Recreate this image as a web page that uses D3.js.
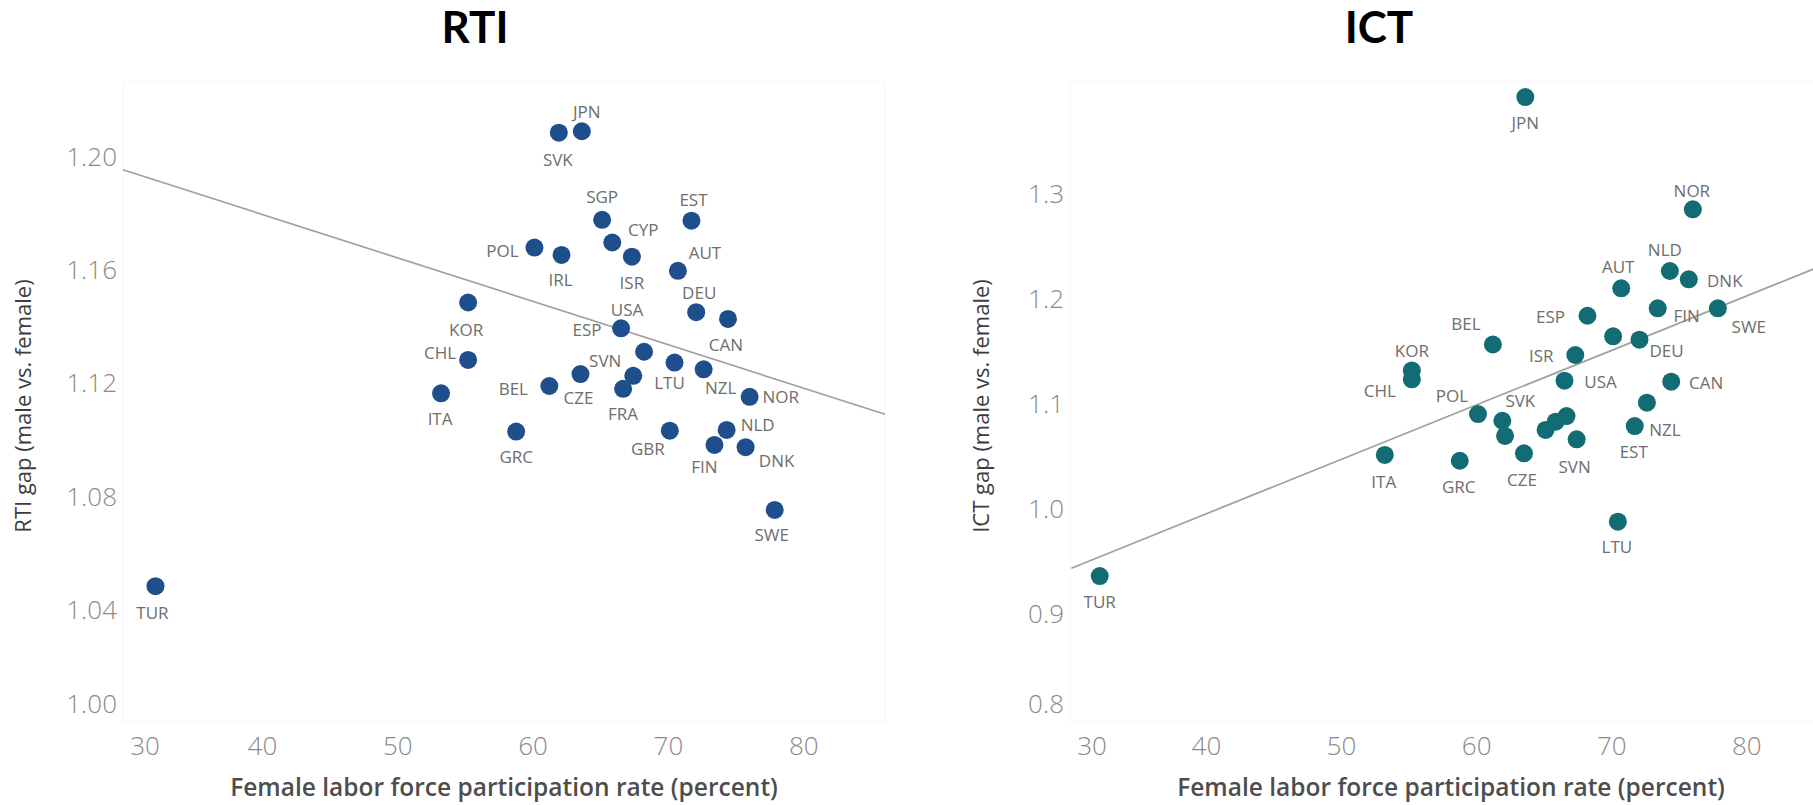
<!DOCTYPE html>
<html>
<head>
<meta charset="utf-8">
<script src="https://cdn.jsdelivr.net/npm/d3@7"></script>
<style>
  body { margin: 0; background: #fff; }
  svg { display: block; font-family: "Open Sans", sans-serif; }
</style>
</head>
<body>
<svg id="chart"></svg>
<script>
// data (x is shared by both panels)
const countries = ["JPN","SVK","SGP","EST","CYP","POL","IRL","ISR","AUT","KOR","DEU","CAN","USA","ESP","CHL",
                   "SVN","LTU","NZL","CZE","BEL","FRA","ITA","NOR","GRC","GBR","NLD","FIN","DNK","SWE","TUR"];
const lfp = [63.6, 61.9, 65.1, 71.7, 65.85, 60.1, 62.1, 67.3, 70.7, 55.2, 72.05, 74.4, 66.5, 68.2, 55.2,
             67.4, 70.45, 72.6, 63.5, 61.2, 66.65, 53.2, 76.0, 58.75, 70.1, 74.3, 73.4, 75.7, 77.85, 32.1];
const rtiGap = [1.2087, 1.2082, 1.1774, 1.1771, 1.1694, 1.1676, 1.1650, 1.1644, 1.1594, 1.1482, 1.1448, 1.1424, 1.1391, 1.1308, 1.1279,
                1.1223, 1.1270, 1.1246, 1.1229, 1.1187, 1.1177, 1.1161, 1.1149, 1.1026, 1.1029, 1.1032, 1.0979, 1.0971, 1.0749, 1.048];
const ictGap = [1.3917, 1.0834, 1.0746, 1.0783, 1.0825, 1.0898, 1.0689, 1.1460, 1.2095, 1.1313, 1.1606, 1.1206, 1.1215, 1.1834, 1.1229,
                1.0657, 0.9873, 1.1006, 1.0524, 1.1560, 1.0879, 1.0508, 1.2848, 1.0453, 1.1638, 1.2260, 1.1905, 1.2181, 1.1905, 0.9355];

const xTicks = [30, 40, 50, 60, 70, 80];
const rtiTicks = [1.00, 1.04, 1.08, 1.12, 1.16, 1.20];
const ictTicks = [0.8, 0.9, 1.0, 1.1, 1.2, 1.3];

// trend line end points
const rtiTrendX = [29.7, 86.0];
const rtiTrendY = [1.1951, 1.1087];
const ictTrendX = [30.0, 86.3];
const ictTrendY = [0.943, 1.235];

// label placement (dx, dy from the dot), only where a label is shown
const rtiLabelPos = {
  JPN: [5, -20], SVK: [-1, 27], SGP: [0, -23], EST: [2, -21], CYP: [31, -13], POL: [-32, 3], IRL: [-1, 25],
  ISR: [0, 26], AUT: [27, -18], DEU: [3, -20], USA: [6, -19], KOR: [-2, 27], ESP: [-57, -22], CAN: [-2, 26],
  CHL: [-28, -7], SVN: [-28, -15], BEL: [-36, 2], CZE: [-2, 23], LTU: [-5, 20], NZL: [17, 18], FRA: [0, 25],
  ITA: [-1, 25], NOR: [31, 0], NLD: [31, -5], GBR: [-22, 18], GRC: [0, 25], FIN: [-10, 22], DNK: [31, 13],
  SWE: [-3, 25], TUR: [-3, 26]
};
const ictLabelPos = {
  NOR: [-1, -19], NLD: [-5, -22], AUT: [-3, -22], DNK: [36, 1], FIN: [29, 7], SWE: [31, 18], ESP: [-37, 1],
  BEL: [-27, -21], DEU: [27, 11], ISR: [-34, 0], KOR: [0, -20], CHL: [-32, 11], USA: [36, 1], CAN: [35, 1],
  POL: [-26, -19], SVK: [18, -20], NZL: [18, 27], EST: [-1, 25], SVN: [-2, 27], CZE: [-2, 26], ITA: [-1, 27],
  GRC: [-1, 26], LTU: [-1, 25], JPN: [0, 25], TUR: [0, 25]
};

const W = 1813, H = 805;
const svg = d3.select("#chart").attr("width", W).attr("height", H);
svg.append("rect").attr("width", W).attr("height", H).attr("fill", "#fff");

const plotTop = 82, plotBottom = 722;

const panels = [
  {
    title: "RTI", yTitle: "RTI gap (male vs. female)", values: rtiGap, ticks: rtiTicks, fmt: d3.format(".2f"),
    color: "#1f4e8c", labels: rtiLabelPos, trendX: rtiTrendX, trendY: rtiTrendY,
    left: 123, right: 885, xDomain: [29.7, 86.0], yDomain: [1.0, 1.2261],
    panelL: 0, panelR: 950, yTitleX: 22
  },
  {
    title: "ICT", yTitle: "ICT gap (male vs. female)", values: ictGap, ticks: ictTicks, fmt: d3.format(".1f"),
    color: "#116c74", labels: ictLabelPos, trendX: ictTrendX, trendY: ictTrendY,
    left: 1070, right: 1832, xDomain: [29.9, 86.3], yDomain: [0.7965, 1.406],
    panelL: 945, panelR: 1813, yTitleX: 980
  }
];

panels.forEach(p => {
  const x = d3.scaleLinear().domain(p.xDomain).range([p.left, p.right]);
  const y = d3.scaleLinear().domain(p.yDomain).range([plotBottom, plotTop]);
  const g = svg.append("g");

  // faint pane outline
  g.append("rect")
    .attr("x", p.left).attr("y", plotTop)
    .attr("width", p.right - p.left).attr("height", plotBottom - plotTop)
    .attr("fill", "none").attr("stroke", "#f5f5f5");

  // title
  g.append("text")
    .attr("x", (p.panelL + p.panelR) / 2).attr("y", 43)
    .attr("text-anchor", "middle")
    .style("font-family", "Lato, 'Open Sans', sans-serif")
    .style("font-weight", "bold").style("font-size", "44px").style("fill", "#000")
    .text(p.title);

  // y tick labels (bottom one pushed inside, like the original)
  g.selectAll(".ytick").data(p.ticks).enter().append("text")
    .attr("x", p.left - 6)
    .attr("y", d => Math.min(y(d), plotBottom - 19))
    .attr("text-anchor", "end").attr("dominant-baseline", "central")
    .style("font-size", "26px").style("font-weight", 300).style("fill", "#8a8a8a")
    .text(d => p.fmt(d));

  // x tick labels
  g.selectAll(".xtick").data(xTicks).enter().append("text")
    .attr("x", d => Math.max(x(d), p.left + 22))
    .attr("y", 745)
    .attr("text-anchor", "middle").attr("dominant-baseline", "central")
    .style("font-size", "26px").style("font-weight", 300).style("fill", "#8a8a8a")
    .text(d => d);

  // axis titles
  g.append("text")
    .attr("x", (p.left + p.right) / 2).attr("y", 796)
    .attr("text-anchor", "middle")
    .style("font-size", "24.5px").style("font-weight", 600).style("fill", "#4d4d4d")
    .text("Female labor force participation rate (percent)");

  g.append("text")
    .attr("transform", `translate(${p.yTitleX},406) rotate(-90)`)
    .attr("text-anchor", "middle").attr("dominant-baseline", "central")
    .style("font-size", "22px").style("fill", "#3d3d3d")
    .text(p.yTitle);

  // trend line
  const line = d3.line().x(d => x(d[0])).y(d => y(d[1]));
  g.append("path")
    .datum(p.trendX.map((v, i) => [v, p.trendY[i]]))
    .attr("d", line)
    .attr("fill", "none").attr("stroke", "#a0a0a0").attr("stroke-width", 1.7);

  const pts = countries.map((c, i) => ({ c, x: lfp[i], y: p.values[i] }));

  g.selectAll(".dot").data(pts).enter().append("circle")
    .attr("cx", d => x(d.x)).attr("cy", d => y(d.y))
    .attr("r", 9).attr("fill", p.color);

  g.selectAll(".lbl").data(pts.filter(d => p.labels[d.c])).enter().append("text")
    .attr("x", d => x(d.x) + p.labels[d.c][0])
    .attr("y", d => y(d.y) + p.labels[d.c][1])
    .attr("text-anchor", "middle").attr("dominant-baseline", "central")
    .style("font-size", "17px").style("fill", "#6e6e6e")
    .text(d => d.c);
});
</script>
</body>
</html>
